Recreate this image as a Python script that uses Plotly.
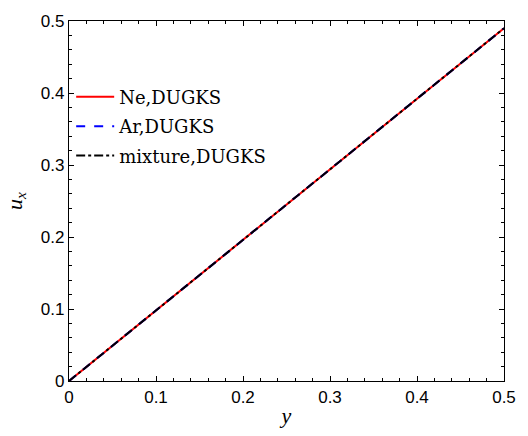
import plotly.graph_objects as go

y_pos = [0.0, 0.1, 0.2, 0.3, 0.4, 0.5]
ux_ne = [0.0, 0.098, 0.196, 0.294, 0.392, 0.490]
ux_ar = [0.0, 0.098, 0.196, 0.294, 0.392, 0.490]
ux_mix = [0.0, 0.098, 0.196, 0.294, 0.392, 0.490]
names = ["Ne,DUGKS", "Ar,DUGKS", "mixture,DUGKS"]
tick_vals = [0, 0.1, 0.2, 0.3, 0.4, 0.5]
tick_text = ["0", "0.1", "0.2", "0.3", "0.4", "0.5"]

fig = go.Figure()
fig.add_trace(go.Scatter(x=y_pos, y=ux_ne, mode="lines", name=names[0], legendgroup="a",
                         line=dict(color="red", width=2, dash="solid")))
fig.add_trace(go.Scatter(x=y_pos, y=ux_ar, mode="lines", name=names[1], legendgroup="b",
                         line=dict(color="blue", width=2, dash="dash")))
fig.add_trace(go.Scatter(x=y_pos, y=ux_mix, mode="lines", name=names[2], legendgroup="c",
                         line=dict(color="black", width=2, dash="dashdot")))

axis_common = dict(
    range=[0, 0.5], showgrid=False, zeroline=False,
    showline=True, linecolor="black", linewidth=1.2, mirror="ticks",
    ticks="inside", ticklen=5, tickcolor="black", tickwidth=1,
    tickvals=tick_vals, ticktext=tick_text,
    tickfont=dict(family="Liberation Sans, Arial", size=17, color="black"),
    minor=dict(ticks="inside", ticklen=3, dtick=0.02, tickcolor="black", tickwidth=1),
)

fig.update_layout(
    width=528, height=436,
    margin=dict(l=69, r=22, t=12, b=52),
    plot_bgcolor="white", paper_bgcolor="white",
    showlegend=True,
    legend=dict(x=0.005, y=0.84, xanchor="left", yanchor="top",
                bgcolor="rgba(0,0,0,0)", borderwidth=0,
                font=dict(family="DejaVu Serif", size=18, color="black"),
                tracegroupgap=3, itemwidth=38),
    xaxis=dict(axis_common, title=dict(text="<i>y</i>", standoff=2,
               font=dict(family="Liberation Serif", size=22, color="black"))),
    yaxis=dict(axis_common, title=dict(text="<i>u</i><sub><i>x</i></sub>", standoff=12,
               font=dict(family="Liberation Serif", size=22, color="black"))),
)

fig.write_html("out.html")
